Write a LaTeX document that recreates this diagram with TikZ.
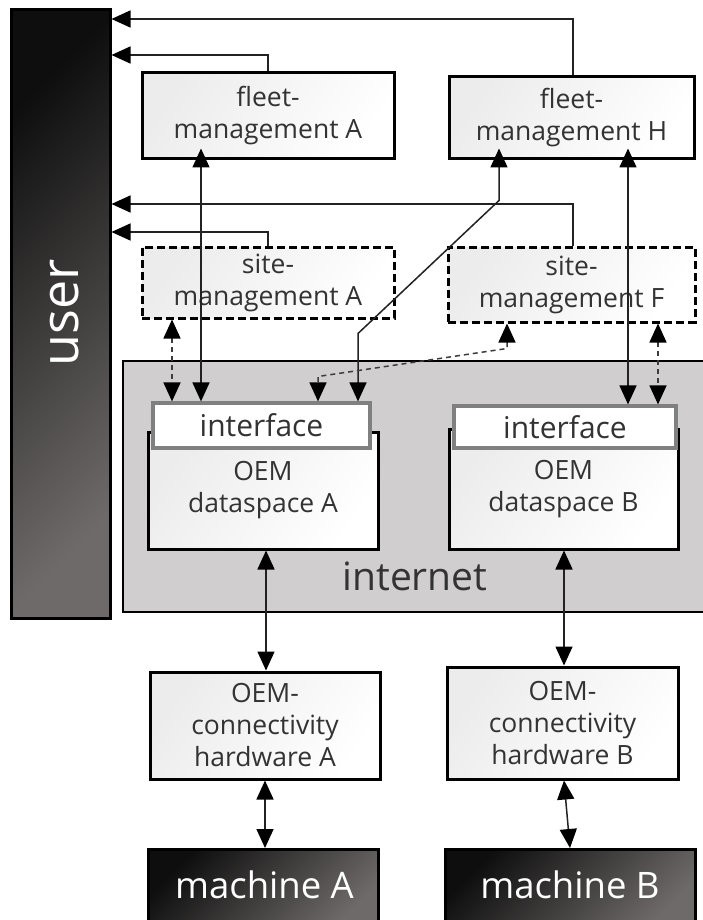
\documentclass[tikz,border=0pt]{standalone}
\usepackage{fontspec}
\setmainfont{Open Sans}
\usetikzlibrary{arrows.meta,calc}
\definecolor{inkgrey}{HTML}{333333}
\definecolor{linegrey}{HTML}{222222}
\definecolor{dashgrey}{HTML}{3C3C3C}
\definecolor{netgrey}{HTML}{D0CECE}
\definecolor{ifgrey}{HTML}{808080}
\definecolor{boxlight}{HTML}{ECECEC}
\definecolor{darkend}{HTML}{0E0E0E}
\definecolor{darklite}{HTML}{6E6A69}

\tikzset{
  boxfont/.style={font=\fontsize{26.5pt}{32pt}\selectfont},
  lightbox/.style={draw=black, line width=3pt, inner sep=0pt, align=center,
    text=inkgrey, boxfont, left color=boxlight, right color=white, shading angle=55},
  dashbox/.style={lightbox, dash pattern=on 8pt off 4pt},
  ifbox/.style={draw=ifgrey, line width=3.2pt, fill=white, inner sep=0pt,
    text=inkgrey, font=\fontsize{30pt}{34pt}\selectfont},
  darkbox/.style={draw=black, line width=3pt, inner sep=0pt,
    left color=darkend, right color=darklite, shading angle=45},
  tip/.tip={Triangle[length=19pt, width=17pt, color=black]},
  conn/.style={draw=linegrey, line width=1.5pt, -tip},
  both/.style={draw=linegrey, line width=1.5pt, tip-tip},
  dboth/.style={draw=dashgrey, line width=1.5pt, dash pattern=on 5pt off 4pt, tip-tip},
}

\begin{document}
\begin{tikzpicture}[x=1pt, y=-1pt]
\useasboundingbox (0,0) rectangle (703,920);
\clip (0,0) rectangle (703,920);
\fill[white] (0,0) rectangle (703,920);

% internet area
\node[draw=black, line width=2.8pt, fill=netgrey, inner sep=0pt,
      minimum width=590pt, minimum height=251pt] (net) at (418,486.5) {};
\node[anchor=base, text=inkgrey, font=\fontsize{39pt}{39pt}\selectfont] (netlabel) at (415,590) {internet};

% user column
\node[darkbox, minimum width=99pt, minimum height=608pt] (user) at (60.5,314) {};
\node[rotate=90, text=white, font=\fontsize{52pt}{52pt}\selectfont] (userlabel) at (65,313) {user};

% management services
\node[lightbox, minimum width=252pt, minimum height=86pt] (fleetA) at (268,116) {fleet-\\management A};
\node[lightbox, minimum width=245pt, minimum height=82pt] (fleetH) at (571.5,118) {fleet-\\management H};
\node[dashbox, minimum width=252pt, minimum height=71pt] (siteA) at (268,282.5) {site-\\management A};
\node[dashbox, minimum width=247pt, minimum height=75pt] (siteF) at (571.5,284.5) {site-\\management F};

% OEM dataspaces with their interfaces
\node[lightbox, minimum width=230pt, minimum height=117pt] (dsA) at (263,490.5) {OEM\\dataspace A};
\node[ifbox, minimum width=217pt, minimum height=45pt] (ifA) at (261.5,425.5) {interface};
\node[lightbox, minimum width=229pt, minimum height=120pt] (dsB) at (563.5,489) {OEM\\dataspace B};
\node[ifbox, minimum width=222pt, minimum height=42pt] (ifB) at (565,427) {interface};

% connectivity hardware
\node[lightbox, minimum width=230pt, minimum height=107pt] (hwA) at (265,725.5) {OEM-\\connectivity\\hardware A};
\node[lightbox, minimum width=231pt, minimum height=112pt] (hwB) at (562.5,723) {OEM-\\connectivity\\hardware B};

% machines
\node[darkbox, minimum width=230pt, minimum height=80pt, anchor=north] (machA) at (263,848) {};
\node[darkbox, minimum width=250pt, minimum height=80pt, anchor=north] (machB) at (570,848) {};
\node[anchor=base, text=white, font=\fontsize{36.5pt}{36.5pt}\selectfont] (machAlabel) at (264.5,898) {machine A};
\node[anchor=base, text=white, font=\fontsize{36.5pt}{36.5pt}\selectfont] (machBlabel) at (570,898) {machine B};

% connector columns and rows
\coordinate (cA1) at (172,0);
\coordinate (cA2) at (201,0);
\coordinate (cA3) at (318,0);
\coordinate (cA4) at (358,0);
\coordinate (cH1) at (499,0);
\coordinate (cF1) at (507,0);
\coordinate (cB1) at (628,0);
\coordinate (cB2) at (658,0);
\coordinate (cU1) at (268,0);
\coordinate (cU2) at (573,0);
\coordinate (cDA) at (266,0);
\coordinate (cDB) at (564,0);
\coordinate (r1) at (0,19);
\coordinate (r2) at (0,55);
\coordinate (r3) at (0,204);
\coordinate (r4) at (0,232);

% reports to the user
\draw[conn] (fleetH.north -| cU2) |- (user.east |- r1);
\draw[conn] (fleetA.north -| cU1) |- (user.east |- r2);
\draw[conn] (siteF.north -| cU2) |- (user.east |- r3);
\draw[conn] (siteA.north -| cU1) |- (user.east |- r4);

% management <-> interfaces
\draw[both] ($(fleetA.south -| cA2)+(0,-12)$) -- (ifA.north -| cA2);
\draw[both] ($(fleetH.south -| cH1)+(0,-12)$) -- (fleetH.south -| cH1) -- ++(0,40)
            -- ++(-141,133) -- (ifA.north -| cA4);
\draw[both] ($(fleetH.south -| cB1)+(0,-12)$) -- (ifB.north -| cB1);
\draw[dboth] (siteA.south -| cA1) -- (ifA.north -| cA1);
\draw[dboth] (siteF.south -| cF1) -- ++(0,25) -- ++(-189,28) -- (ifA.north -| cA3);
\draw[dboth] (siteF.south -| cB2) -- (ifB.north -| cB2);

% dataspaces <-> hardware <-> machines
\draw[both] (dsA.south -| cDA) -- (hwA.north -| cDA);
\draw[both] (dsB.south -| cDB) -- (hwB.north -| cDB);
\draw[both] (hwA.south) -- (machA.north -| hwA.south);
\draw[both] (hwB.south -| cDB) -- (machB.north);
\end{tikzpicture}
\end{document}
